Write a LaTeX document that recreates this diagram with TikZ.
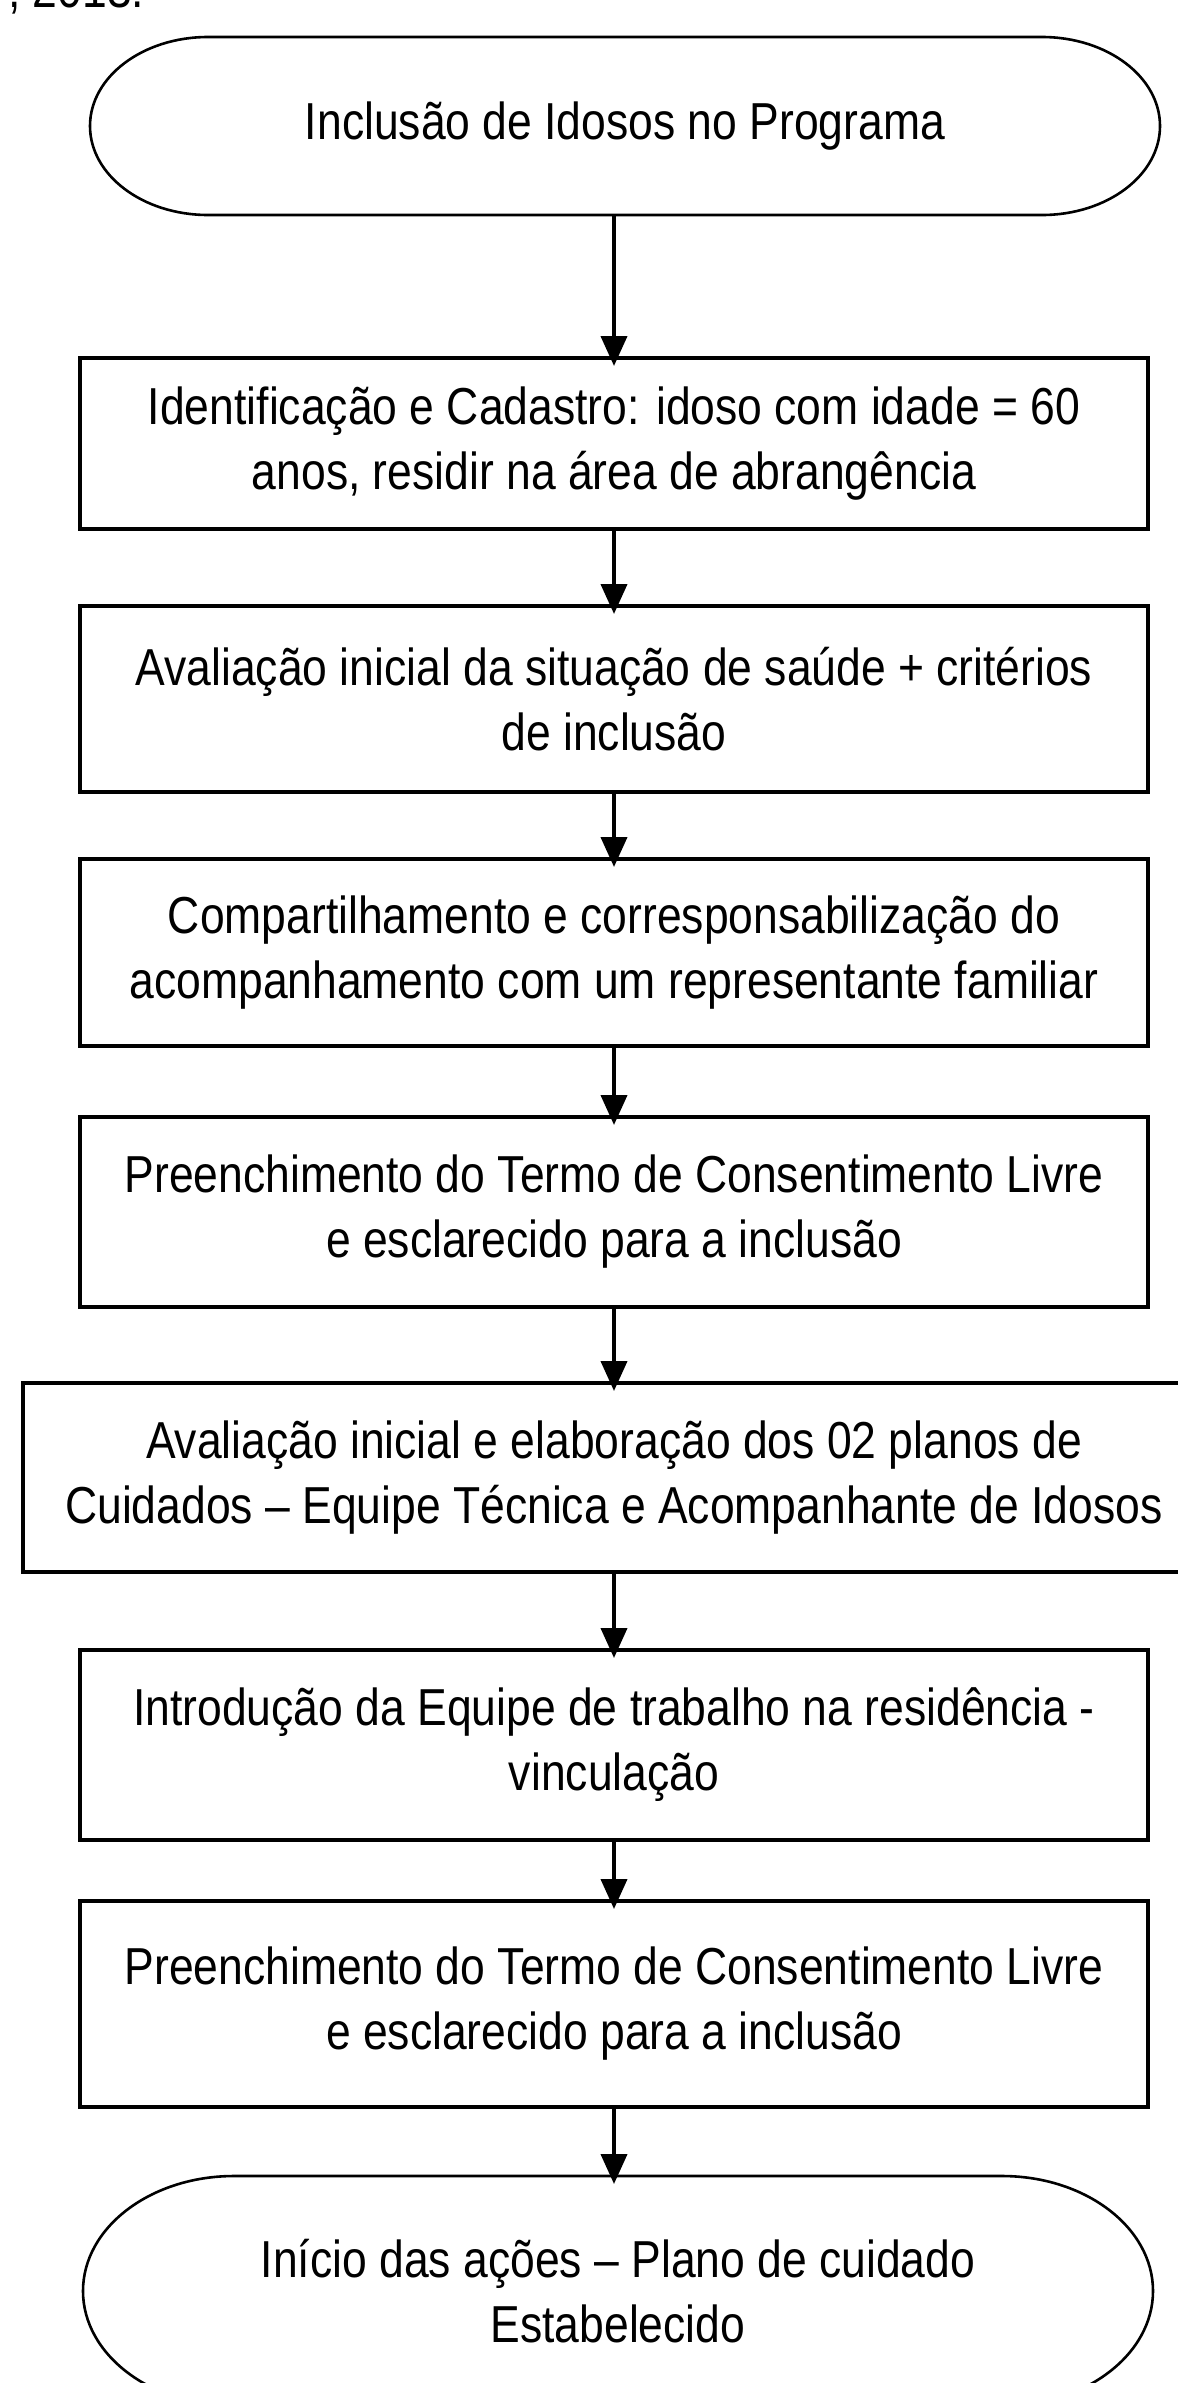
\documentclass[tikz,border=0pt]{standalone}
\usepackage{fontspec}
\setmainfont{Liberation Sans}[FakeStretch=0.855]
\usetikzlibrary{positioning,arrows.meta}

\begin{document}
\begin{tikzpicture}[
    x=1pt, y=1pt,
    font=\fontsize{52}{65}\selectfont,
    box/.style={rectangle, draw, line width=3.3pt, align=center, minimum width=1068pt, inner sep=0pt, outer sep=0pt},
    term/.style={rectangle, align=center, inner sep=0pt, outer sep=0pt},
    termline/.style={line width=2.6pt},
    arrow/.style={-{Triangle[length=30pt,width=26pt]}, line width=4pt, shorten >=-8pt}
]
\useasboundingbox (0,0) rectangle (1178,-2383);

% fragment of the caption above the chart
\begin{scope}
\clip (0,0) rectangle (1178,-2383);
\node[anchor=base west, inner sep=0pt] (fonte) at (8,-7) {; 2013.};
\end{scope}

\node[term, minimum width=1070pt, minimum height=178pt] (inclusao) at (625,-126) {Inclusão de Idosos no Programa};
\node[box, minimum height=171pt, below=143pt of inclusao, xshift=-11pt] (cadastro) {Identificação e Cadastro: idoso com idade = 60\\anos, residir na área de abrangência};
\node[box, minimum height=186pt, below=77pt of cadastro] (avaliacao) {Avaliação inicial da situação de saúde + critérios\\de inclusão};
\node[box, minimum height=187pt, below=67pt of avaliacao] (compart) {Compartilhamento e corresponsabilização do\\acompanhamento com um representante familiar};
\node[box, minimum height=190pt, below=71pt of compart] (termo) {Preenchimento do Termo de Consentimento Livre\\e esclarecido para a inclusão};
\node[box, minimum height=189pt, minimum width=1182pt, below=76pt of termo] (planos) {Avaliação inicial e elaboração dos 02 planos de\\Cuidados – Equipe Técnica e Acompanhante de Idosos};
\node[box, minimum height=190pt, below=78pt of planos] (introducao) {Introdução da Equipe de trabalho na residência -\\vinculação};
\node[box, minimum height=206pt, below=61pt of introducao] (termob) {Preenchimento do Termo de Consentimento Livre\\e esclarecido para a inclusão};
\node[term, minimum width=1070pt, minimum height=230pt, below=69pt of termob, xshift=4pt] (inicio) {Início das ações – Plano de cuidado\\Estabelecido};

% terminator outlines
\draw[termline] ([xshift=118pt]inclusao.north west) -- ([xshift=-118pt]inclusao.north east)
    arc[start angle=90, end angle=-90, x radius=118pt, y radius=89pt]
    -- ([xshift=118pt]inclusao.south west)
    arc[start angle=270, end angle=90, x radius=118pt, y radius=89pt] -- cycle;
\draw[termline] ([xshift=151pt]inicio.north west) -- ([xshift=-151pt]inicio.north east)
    arc[start angle=90, end angle=-90, x radius=151pt, y radius=115pt]
    -- ([xshift=151pt]inicio.south west)
    arc[start angle=270, end angle=90, x radius=151pt, y radius=115pt] -- cycle;

\draw[arrow] (inclusao.south -| cadastro) -- (cadastro.north);
\draw[arrow] (cadastro) -- (avaliacao);
\draw[arrow] (avaliacao) -- (compart);
\draw[arrow] (compart) -- (termo);
\draw[arrow] (termo) -- (planos);
\draw[arrow] (planos) -- (introducao);
\draw[arrow] (introducao) -- (termob);
\draw[arrow] (termob.south) -- (inicio.north -| termob);

\end{tikzpicture}
\end{document}
